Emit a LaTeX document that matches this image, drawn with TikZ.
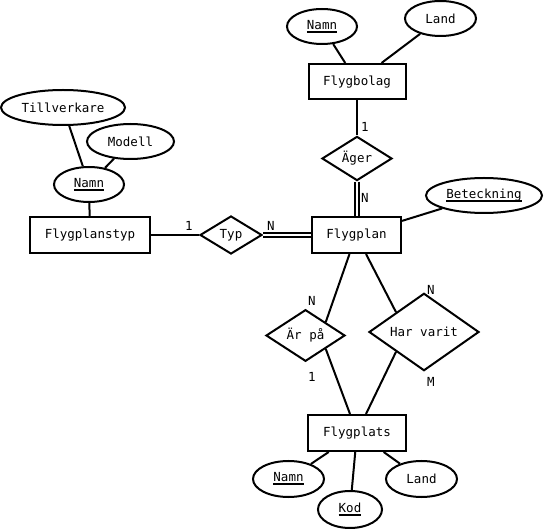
\documentclass[tikz,border=0pt]{standalone}
\usepackage{fontspec}
\setmainfont{DejaVu Sans Mono}
\usetikzlibrary{shapes.geometric,calc}
\newcommand\keyul[1]{\setbox0\hbox{#1}\leavevmode\rlap{\raisebox{-3.2pt}{\rule{\wd0}{1.8pt}}}\box0}
\tikzset{
  every node/.style={font=\fontsize{12.5}{14}\selectfont},
  ent/.style={draw, line width=2pt, rectangle, inner sep=0pt, text depth=0.3ex},
  attr/.style={draw, line width=2pt, ellipse, inner sep=0pt, minimum height=35pt},
  rel/.style={draw, line width=2pt, diamond, inner sep=0pt},
  conn/.style={line width=2pt},
  dconn/.style={line width=1.8pt, double, double distance=2.2pt},
  card/.style={inner sep=0pt}
}
\begin{document}
\begin{tikzpicture}[x=1pt,y=-1pt]
\useasboundingbox (0,0) rectangle (544,529);
% entities
\node[ent, minimum width=97pt, minimum height=35pt] (fb) at (357,81.5) {Flygbolag};
\node[ent, minimum width=89pt, minimum height=36pt] (fp) at (356.5,235) {Flygplan};
\node[ent, minimum width=120pt, minimum height=36pt] (fpt) at (90,235) {Flygplanstyp};
\node[ent, minimum width=98pt, minimum height=36pt] (fpl) at (357,433) {Flygplats};
% attributes
\node[attr, minimum width=70pt] (fbnamn) at (322,26.5) {\keyul{Namn}};
\node[attr, minimum width=71pt] (fbland) at (440.5,18.5) {Land};
\node[attr, minimum width=116pt] (bet) at (484,195.5) {\keyul{Beteckning}};
\node[attr, minimum width=70pt] (tnamn) at (89,184.5) {\keyul{Namn}};
\node[attr, minimum width=124pt] (till) at (63,107.5) {Tillverkare};
\node[attr, minimum width=87pt] (mod) at (130.5,141.5) {Modell};
\node[attr, minimum width=71pt, minimum height=36pt] (plnamn) at (288.5,479) {\keyul{Namn}};
\node[attr, minimum width=64pt, minimum height=37pt] (kod) at (350,509.5) {\keyul{Kod}};
\node[attr, minimum width=71pt, minimum height=36pt] (plland) at (421.5,479) {Land};
% relationships
\node[rel, minimum width=70pt, minimum height=41pt] (ager) at (357,158.5) {Äger};
\node[rel, minimum width=62pt, minimum height=38pt] (typ) at (231,235) {Typ};
\node[rel, minimum width=79pt, minimum height=47pt] (arpa) at (305.5,335.5) {Är på};
\node[rel, minimum width=110pt, minimum height=66pt] (har) at (424,332) {Har varit};
% connectors
\draw[conn] (fbnamn) -- (fb);
\draw[conn] (fbland) -- (fb);
\draw[conn] (fb.south) -- (ager.north);
\draw[dconn] (ager.south) -- (ager.south |- fp.north);
\draw[conn] (bet) -- (fp);
\draw[conn] (fpt.east) -- (typ.west);
\draw[dconn] (typ.east) -- (fp.west);
\draw[conn] (tnamn) -- (fpt);
\draw[conn] (till) -- (tnamn);
\draw[conn] (mod) -- (tnamn);
\draw[conn] ($(fp.south)+(-7,0)$) -- ($(arpa.north)!0.5!(arpa.east)$);
\draw[conn] ($(arpa.south)!0.5!(arpa.east)$) -- ($(fpl.north)+(-7,0)$);
\draw[conn] ($(fp.south)+(9.5,0)$) -- ($(har.north)!0.5!(har.west)$);
\draw[conn] ($(har.south)!0.5!(har.west)$) -- ($(fpl.north)+(9,0)$);
\draw[conn] (fpl) -- (plnamn);
\draw[conn] (fpl) -- (kod);
\draw[conn] (fpl) -- (plland);
% cardinalities
\node[card] (c1) at (365,127) {1};
\node[card] (c2) at (365,198) {N};
\node[card] (c3) at (189,226) {1};
\node[card] (c4) at (271,226) {N};
\node[card] (c5) at (312,301) {N};
\node[card] (c6) at (312,377) {1};
\node[card] (c7) at (431,290) {N};
\node[card] (c8) at (431,382) {M};
\end{tikzpicture}
\end{document}
